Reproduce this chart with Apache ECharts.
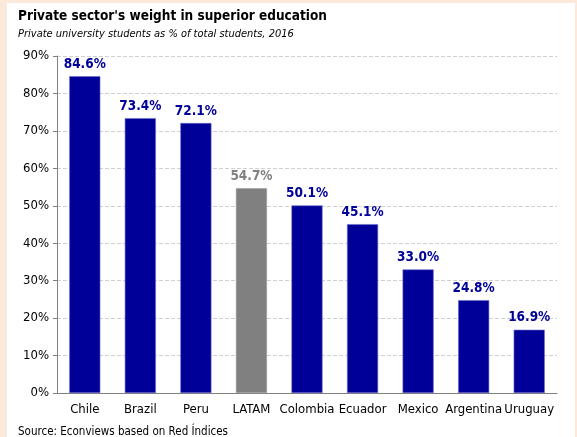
<!DOCTYPE html>
<html>
<head>
<meta charset="utf-8">
<script src="https://cdn.jsdelivr.net/npm/echarts@6/dist/echarts.min.js"></script>
<style>
  html, body { margin: 0; padding: 0; background: #fde9d9; }
  #chart { width: 577px; height: 437px; }
</style>
</head>
<body>
<div id="chart"></div>
<script>
// Share of private university students by country, 2016
const countries = ['Chile', 'Brazil', 'Peru', 'LATAM', 'Colombia', 'Ecuador', 'Mexico', 'Argentina', 'Uruguay'];
const privateShare = [84.6, 73.4, 72.1, 54.7, 50.1, 45.1, 33.0, 24.8, 16.9];
const highlight = 'LATAM';

const FONT = '"DejaVu Sans Condensed", "DejaVu Sans", sans-serif';
const BLUE = '#000099';
const GREY = '#808080';

const chart = echarts.init(document.getElementById('chart'));

const barData = countries.map((c, i) => {
  const isAvg = c === highlight;
  return {
    value: privateShare[i],
    itemStyle: { color: isAvg ? GREY : BLUE, borderColor: isAvg ? '#a0a0a0' : '#6f6fc8', borderWidth: 0.6 },
    label: { color: isAvg ? GREY : BLUE }
  };
});

chart.setOption({
  backgroundColor: '#fde9d9',
  animation: false,
  graphic: [
    { type: 'rect', z: -10, shape: { x: 7, y: 3, width: 568, height: 440 }, style: { fill: '#ffffff' } },
    { type: 'text', left: 18, top: 9, style: { text: "Private sector's weight in superior education", font: 'bold 13.5px ' + FONT, fill: '#000' } },
    { type: 'text', left: 18, top: 29, style: { text: 'Private university students as % of total students, 2016', font: 'italic 11px ' + FONT, fill: '#000' } },
    { type: 'text', left: 18, top: 426, style: { text: 'Source: Econviews based on Red Índices', font: '11.5px ' + FONT, fill: '#000' } }
  ],
  grid: { left: 57, right: 20, top: 56, bottom: 44 },
  xAxis: {
    type: 'category',
    data: countries,
    axisLine: { lineStyle: { color: '#808080' } },
    axisTick: { show: false },
    axisLabel: { color: '#000', fontFamily: FONT, fontSize: 13, margin: 10, interval: 0 }
  },
  yAxis: {
    type: 'value',
    min: 0, max: 90, interval: 10,
    axisLine: { show: true, lineStyle: { color: '#808080' } },
    axisTick: { show: true, length: 4, lineStyle: { color: '#808080' } },
    axisLabel: { color: '#000', fontFamily: FONT, fontSize: 13, margin: 8, formatter: '{value}%' },
    splitLine: { lineStyle: { color: '#d0d0d0', type: [4, 2] } }
  },
  series: [{
    type: 'bar',
    data: barData,
    barWidth: '56%',
    label: {
      show: true,
      position: 'top',
      distance: 5,
      fontFamily: FONT,
      fontWeight: 'bold',
      fontSize: 13.5,
      formatter: p => p.value.toFixed(1) + '%'
    }
  }]
});
</script>
</body>
</html>
